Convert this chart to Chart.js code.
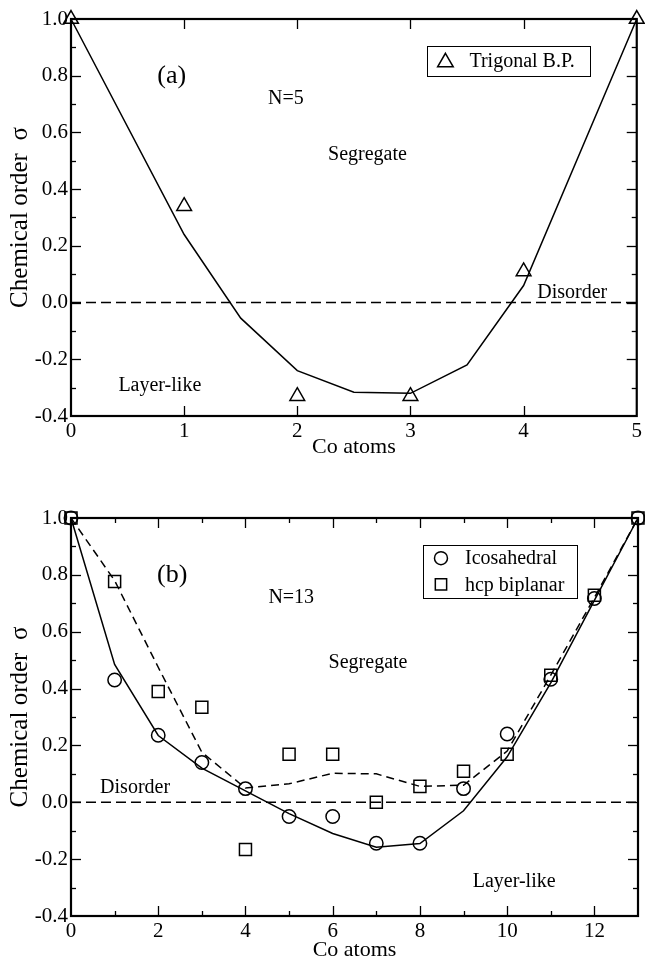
<!DOCTYPE html>
<html>
<head>
<meta charset="utf-8">
<script src="https://cdn.jsdelivr.net/npm/chart.js@4.4.1/dist/chart.umd.min.js"></script>
<style>
  html, body { margin: 0; padding: 0; background: #fff; }
  #wrap { position: relative; width: 645px; height: 961px; }
  canvas { position: absolute; left: 0; }
  #chartA { top: 0; }
  #chartB { top: 480px; }
</style>
</head>
<body>
<div id="wrap">
  <canvas id="chartA" width="645" height="480"></canvas>
  <canvas id="chartB" width="645" height="481"></canvas>
</div>
<script>
// panel (a), N=5
const coA = [0, 1, 2, 3, 4, 5];
const sigmaTrigonal = [1.0, 0.34, -0.33, -0.33, 0.11, 1.0];
const fitXA = [0, 1, 1.5, 2, 2.5, 3, 3.5, 4, 5];
const fitA = [1.0, 0.24, -0.055, -0.24, -0.316, -0.32, -0.22, 0.06, 1.0];

// panel (b), N=13
const coB = [0, 1, 2, 3, 4, 5, 6, 7, 8, 9, 10, 11, 12, 13];
const sigmaIco = [1.0, 0.43, 0.236, 0.14, 0.048, -0.05, -0.05, -0.144, -0.144, 0.048, 0.24, 0.433, 0.717, 1.0];
const sigmaHcp = [1.0, 0.777, 0.39, 0.334, -0.166, 0.169, 0.169, 0.0, 0.056, 0.109, 0.169, 0.447, 0.728, 1.0];
const fitIco = [1.0, 0.485, 0.235, 0.12, 0.04, -0.04, -0.11, -0.158, -0.145, -0.03, 0.16, 0.42, 0.71, 1.0];
const fitHcp = [1.0, 0.78, 0.475, 0.176, 0.05, 0.065, 0.102, 0.10, 0.056, 0.06, 0.18, 0.447, 0.72, 1.0];

const yTicks = [-0.4, -0.2, 0.0, 0.2, 0.4, 0.6, 0.8, 1.0];
const yTitle = 'Chemical order  σ';
const xTitle = 'Co atoms';

const serif = "'Liberation Serif', 'DejaVu Serif', serif";

function pts(xs, ys) {
  return xs.map((x, i) => ({ x: x, y: ys[i] }));
}

// box + inward ticks on all four sides
const framePlugin = {
  id: 'frame',
  beforeDatasetsDraw(chart, args, opts) {
    const { ctx, chartArea: a, scales: { x, y } } = chart;
    ctx.save();
    ctx.strokeStyle = '#000';
    ctx.lineWidth = 1.3;
    const seg = (x1, y1, x2, y2) => { ctx.beginPath(); ctx.moveTo(x1, y1); ctx.lineTo(x2, y2); ctx.stroke(); };
    const isMajor = (v, step) => Math.abs(v / step - Math.round(v / step)) < 1e-6;
    for (let i = 1; x.min + i * opts.xMinor < x.max - 1e-9; i++) {
      const v = x.min + i * opts.xMinor;
      const len = isMajor(v, opts.xMajor) ? 10 : 5;
      const px = Math.round(x.getPixelForValue(v)) + 0.5;
      seg(px, a.bottom, px, a.bottom - len);
      seg(px, a.top, px, a.top + len);
    }
    for (let i = 1; y.min + i * 0.1 < y.max - 1e-9; i++) {
      const v = y.min + i * 0.1;
      const len = isMajor(v, 0.2) ? 10 : 5;
      const py = Math.round(y.getPixelForValue(v)) + 0.5;
      seg(a.left, py, a.left + len, py);
      seg(a.right, py, a.right - len, py);
    }
    ctx.lineWidth = 2.2;
    ctx.strokeRect(a.left, a.top, a.right - a.left, a.bottom - a.top);
    ctx.restore();
  },
  afterDatasetsDraw(chart, args, opts) {
    const { ctx, scales: { x, y } } = chart;
    ctx.save();
    ctx.fillStyle = '#000';
    ctx.textBaseline = 'middle';
    ctx.textAlign = 'center';
    (opts.labels || []).forEach(l => {
      ctx.font = l.size + 'px ' + serif;
      ctx.fillText(l.text, x.getPixelForValue(l.x), y.getPixelForValue(l.y));
    });
    // legend box
    const lg = opts.legend;
    const bx1 = x.getPixelForValue(lg.x1), bx2 = x.getPixelForValue(lg.x2);
    const by1 = y.getPixelForValue(lg.y1), by2 = y.getPixelForValue(lg.y2);
    ctx.lineWidth = 1;
    ctx.strokeStyle = '#000';
    ctx.strokeRect(Math.round(bx1) + 0.5, Math.round(by1) + 0.5, Math.round(bx2 - bx1), Math.round(by2 - by1));
    ctx.textAlign = 'left';
    ctx.font = '20px ' + serif;
    const rowH = (by2 - by1) / lg.items.length;
    lg.items.forEach((it, i) => {
      const cy = by1 + rowH * (i + 0.5);
      ctx.lineWidth = 1.5;
      ctx.fillStyle = 'rgba(0,0,0,0)';
      Chart.helpers.drawPoint(ctx, { pointStyle: it.style, radius: it.radius, borderWidth: 1.5 }, bx1 + 18, cy + (it.dy || 0));
      ctx.fillStyle = '#000';
      ctx.fillText(it.text, bx1 + 42, cy + 1);
    });
    ctx.restore();
  }
};

function makeScales(xMax, xStep, xKeep, xPadBottom, xHeight) {
  return {
    x: {
      type: 'linear', min: 0, max: xMax,
      grid: { display: false, drawTicks: false },
      border: { display: false },
      ticks: { stepSize: xStep, color: '#000', padding: 3, font: { family: serif, size: 21 },
               callback: v => xKeep(v) ? String(v) : null },
      title: { display: true, text: xTitle, color: '#000',
               font: { family: serif, size: 22, lineHeight: 1 }, padding: { top: 0, bottom: xPadBottom } },
      afterFit: s => { s.height = xHeight; }
    },
    y: {
      type: 'linear', min: -0.4, max: 1.0,
      grid: { display: false, drawTicks: false },
      border: { display: false },
      afterBuildTicks: s => { s.ticks = yTicks.map(v => ({ value: v })); },
      ticks: { color: '#000', padding: 3, font: { family: serif, size: 21 },
               callback: v => v.toFixed(1) },
      title: { display: true, text: yTitle, color: '#000',
               font: { family: serif, size: 25, lineHeight: 1.2 }, padding: { top: 5, bottom: 0 } },
      afterFit: s => { s.width = 71; }
    }
  };
}

const common = {
  responsive: false,
  animation: false,
  events: [],
  plugins: { legend: { display: false }, tooltip: { enabled: false } }
};

new Chart('chartA', {
  type: 'scatter',
  data: {
    datasets: [
      { data: pts(coA, sigmaTrigonal), showLine: false, pointStyle: 'triangle', pointRadius: 8.5,
        pointBorderWidth: 1.5, borderColor: '#000', backgroundColor: 'rgba(0,0,0,0)', clip: false },
      { data: pts(fitXA, fitA), showLine: true, pointRadius: 0, borderColor: '#000', borderWidth: 1.5, clip: false },
      { data: pts([0, 5], [0, 0]), showLine: true, pointRadius: 0, borderColor: '#000', borderWidth: 1.5,
        borderDash: [10, 5], clip: false }
    ]
  },
  options: Object.assign({}, common, {
    layout: { autoPadding: false, padding: { top: 19, right: 7, left: 0, bottom: 0 } },
    scales: makeScales(5, 1, v => true, 22, 64),
    plugins: Object.assign({}, common.plugins, {
      frame: {
        xMajor: 1, xMinor: 1,
        labels: [
          { text: '(a)', x: 0.89, y: 0.80, size: 26 },
          { text: 'N=5', x: 1.9, y: 0.72, size: 20 },
          { text: 'Segregate', x: 2.62, y: 0.52, size: 20 },
          { text: 'Layer-like', x: 0.785, y: -0.295, size: 20 },
          { text: 'Disorder', x: 4.43, y: 0.035, size: 20 }
        ],
        legend: { x1: 3.15, x2: 4.59, y1: 0.905, y2: 0.80,
                  items: [{ style: 'triangle', radius: 9, dy: 1.5, text: 'Trigonal B.P.' }] }
      }
    })
  }),
  plugins: [framePlugin]
});

new Chart('chartB', {
  type: 'scatter',
  data: {
    datasets: [
      { data: pts(coB, sigmaIco), showLine: false, pointStyle: 'circle', pointRadius: 6.7,
        pointBorderWidth: 1.5, borderColor: '#000', backgroundColor: 'rgba(0,0,0,0)', clip: false },
      { data: pts(coB, sigmaHcp), showLine: false, pointStyle: 'rect', pointRadius: 8.5,
        pointBorderWidth: 1.5, borderColor: '#000', backgroundColor: 'rgba(0,0,0,0)', clip: false },
      { data: pts(coB, fitIco), showLine: true, pointRadius: 0, borderColor: '#000', borderWidth: 1.5, clip: false },
      { data: pts(coB, fitHcp), showLine: true, pointRadius: 0, borderColor: '#000', borderWidth: 1.5,
        borderDash: [8, 5], clip: false },
      { data: pts([0, 13], [0, 0]), showLine: true, pointRadius: 0, borderColor: '#000', borderWidth: 1.5,
        borderDash: [10, 5], clip: false }
    ]
  },
  options: Object.assign({}, common, {
    layout: { autoPadding: false, padding: { top: 38, right: 7, left: 0, bottom: 0 } },
    scales: makeScales(13, 2, v => v % 2 === 0, 0, 45),
    plugins: Object.assign({}, common.plugins, {
      frame: {
        xMajor: 2, xMinor: 1,
        labels: [
          { text: '(b)', x: 2.32, y: 0.80, size: 26 },
          { text: 'N=13', x: 5.05, y: 0.72, size: 20 },
          { text: 'Segregate', x: 6.81, y: 0.49, size: 20 },
          { text: 'Disorder', x: 1.47, y: 0.05, size: 20 },
          { text: 'Layer-like', x: 10.16, y: -0.28, size: 20 }
        ],
        legend: { x1: 8.07, x2: 11.6, y1: 0.905, y2: 0.72,
                  items: [{ style: 'circle', radius: 6.5, text: 'Icosahedral' },
                          { style: 'rect', radius: 8, text: 'hcp biplanar' }] }
      }
    })
  }),
  plugins: [framePlugin]
});
</script>
</body>
</html>
